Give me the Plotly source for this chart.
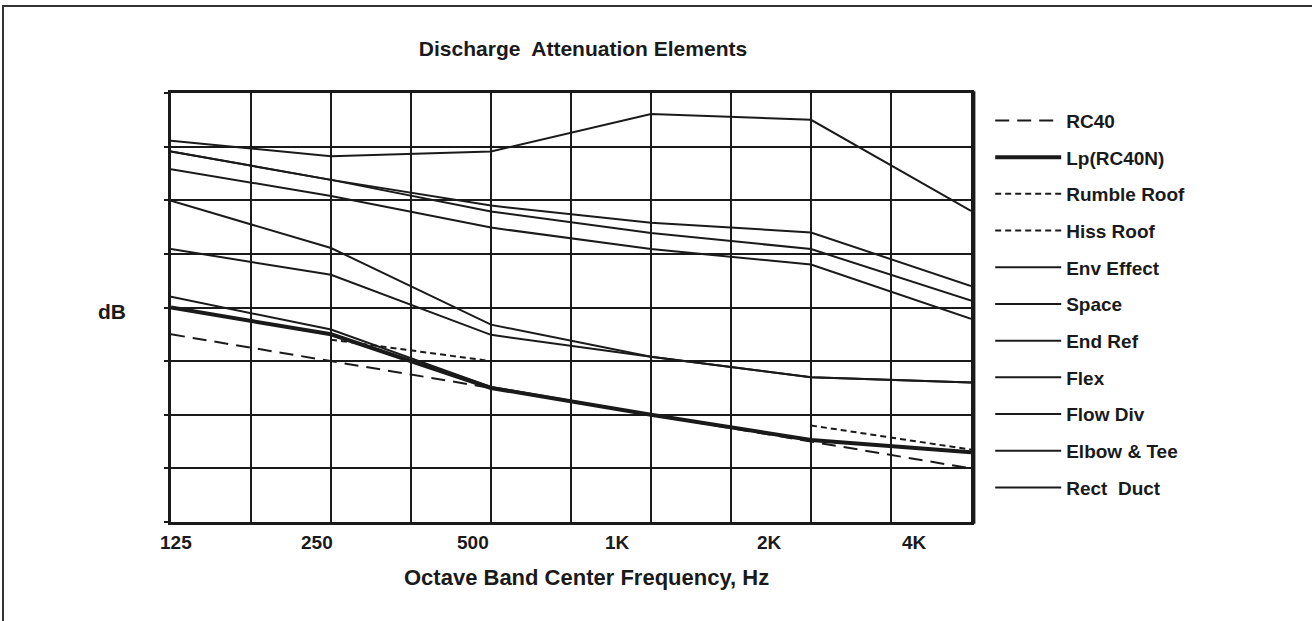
import math
import plotly.graph_objects as go

# ---------------- data (dB per octave band) ----------------
bands = [125, 250, 500, 1000, 2000, 4000]
band_labels = ["125", "250", "500", "1K", "2K", "4K"]

rc40 = [50, 45, 40, 35, 30, 25]
lp_rc40n = [55, 50, 40, 35, 30.3, 28]
rumble_roof = [None, 49, 45, None, None, None]
hiss_roof = [None, None, None, None, 33, 28.5]
env_effect = [57, 50.9, 40.2, 35, 30.3, 28]
space = [65.9, 61.1, 49.9, 45.8, 42.0, 41.0]
end_ref = [74.9, 66.1, 51.8, 45.8, 42.0, 41.0]
flex = [80.8, 75.8, 69.9, 65.9, 63.0, 52.9]
flow_div = [84.1, 78.8, 72.9, 68.9, 65.9, 56.3]
elbow_tee = [84.1, 78.8, 74.0, 70.8, 69.0, 59.0]
rect_duct = [86.1, 83.2, 84.1, 91.1, 90.0, 73.0]

# ---------------- styling ----------------
INK = "#1a1a1a"
FONT = "Liberation Sans, Arial, Helvetica, sans-serif"

series = [
    ("RC40", rc40, dict(width=2, dash="14px,8px")),
    ("Lp(RC40N)", lp_rc40n, dict(width=4)),
    ("Rumble Roof", rumble_roof, dict(width=2, dash="6px,4px")),
    ("Hiss Roof", hiss_roof, dict(width=2, dash="6px,4px")),
    ("Env Effect", env_effect, dict(width=2)),
    ("Space", space, dict(width=2)),
    ("End Ref", end_ref, dict(width=2)),
    ("Flex", flex, dict(width=2)),
    ("Flow Div", flow_div, dict(width=2)),
    ("Elbow & Tee", elbow_tee, dict(width=2)),
    ("Rect  Duct", rect_duct, dict(width=2)),
]

fig = go.Figure()
for i, (name, vals, ln) in enumerate(series):
    fig.add_trace(go.Scatter(
        x=bands, y=vals, name=name, mode="lines",
        line=dict(color=INK, **ln),
        legendgroup=f"g{i}", connectgaps=False,
    ))

# half-octave grid positions
grid_freqs = [bands[0] * 2 ** (k / 2) for k in range(2 * (len(bands) - 1) + 1)]

fig.update_layout(
    width=1312, height=621,
    margin=dict(l=171, r=341, t=93, b=99),
    paper_bgcolor="white", plot_bgcolor="white",
    showlegend=True,
    legend=dict(
        x=1.024, xanchor="left", y=0.98, yanchor="top",
        font=dict(family=FONT, size=19, color=INK, weight="bold"),
        traceorder="grouped", tracegroupgap=9,
        itemwidth=66, bgcolor="rgba(0,0,0,0)",
    ),
    title=dict(
        text="Discharge  Attenuation Elements",
        x=583 / 1312, xanchor="center", y=1 - 49 / 621, yanchor="middle",
        font=dict(family=FONT, size=21, color=INK, weight="bold"),
    ),
    xaxis=dict(
        type="log",
        range=[math.log10(bands[0]), math.log10(bands[-1])],
        tickvals=grid_freqs, ticktext=[""] * len(grid_freqs),
        showgrid=True, gridcolor=INK, gridwidth=2,
        showline=True, linecolor=INK, linewidth=3, mirror=True,
        ticks="", zeroline=False,
    ),
    yaxis=dict(
        range=[15, 95], tick0=15, dtick=10,
        showgrid=True, gridcolor=INK, gridwidth=2,
        showline=True, linecolor=INK, linewidth=3, mirror=True,
        ticks="outside", ticklen=4, tickwidth=2, tickcolor=INK,
        showticklabels=False, zeroline=False,
    ),
)

# octave band labels (slightly offset as in the original artwork)
label_shift = [5, -14, -18, -34, -42, -57]
for f, lab, dx in zip(bands, band_labels, label_shift):
    fig.add_annotation(
        x=math.log10(f), xref="x", y=0, yref="paper",
        text=lab, showarrow=False, xanchor="center", yanchor="middle",
        xshift=dx, yshift=-20,
        font=dict(family=FONT, size=19, color=INK, weight="bold"),
    )

fig.add_annotation(
    x=(586 - 171) / 800, xref="paper", y=(522 - 577) / 429, yref="paper",
    text="Octave Band Center Frequency, Hz", showarrow=False,
    xanchor="center", yanchor="middle",
    font=dict(family=FONT, size=22, color=INK, weight="bold"),
)
fig.add_annotation(
    x=(112 - 171) / 800, xref="paper", y=(522 - 311) / 429, yref="paper",
    text="dB", showarrow=False, xanchor="center", yanchor="middle",
    font=dict(family=FONT, size=21, color=INK, weight="bold"),
)

# heavier right edge of the plot frame, as in the original
fig.add_shape(
    type="line", xref="paper", yref="paper",
    x0=1.003, x1=1.003, y0=-0.004, y1=1.004,
    line=dict(color=INK, width=4),
)

# outer frame of the figure
fig.add_shape(
    type="rect", xref="paper", yref="paper",
    x0=(3 - 171) / 800, x1=1.6, y0=-0.5, y1=(522 - 6) / 429,
    line=dict(color="#333333", width=2), fillcolor="rgba(0,0,0,0)",
)

fig.write_html(
    "out.html",
    config={"displayModeBar": False},
    post_script="document.body.style.margin='0px';",
)
